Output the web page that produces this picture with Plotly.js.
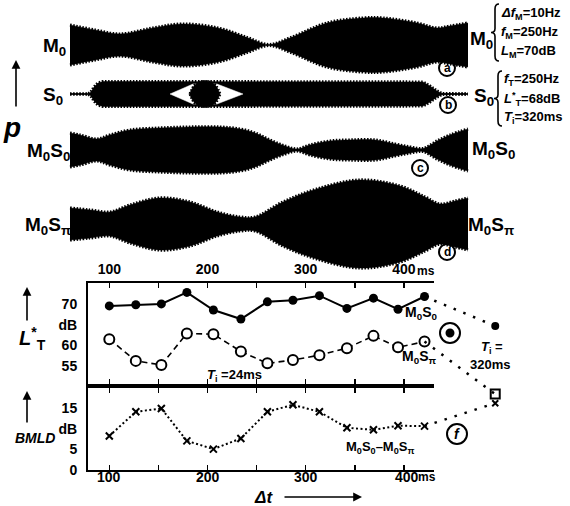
<!DOCTYPE html>
<html><head><meta charset="utf-8">
<script src="https://cdn.plot.ly/plotly-3.0.1.min.js"></script>
<style>html,body{margin:0;padding:0;background:#fff;}#chart{width:570px;height:506px;}</style>
</head><body><div id="chart"></div>
<script>
// ---------------- data ----------------
// lower panels: masked thresholds vs. delay Δt (ms)
const dtMs   = [100,127,153,179,206,234,261,287,314,342,369,394,421];
const m0s0   = [69.6,69.9,70.1,72.9,68.6,66.4,70.6,71.0,72.1,69.0,71.5,68.8,71.9];
const m0spi  = [61.5,56.2,55.2,62.9,62.7,58.5,55.6,56.4,57.6,59.3,62.3,59.5,60.9];
const bmld   = [8.3,14.2,15.0,7.1,5.1,7.7,14.2,15.9,14.2,10.3,9.8,10.8,10.7];
// thresholds for the long signal (Ti = 320 ms), drawn to the right
const longDt = 493;
const longM0s0 = 64.7;
const longM0spi = 48.1;
const longBmld = 16.3;
const xTickVals = [100,150,200,250,300,350,400];
const xTickText = ['100','','200','','300','','400'];
const yTopVals = [55,60,65,70];
const yTopText = ['55','60','dB','70'];
const yBotVals = [0,5,10,15];
const yBotText = ['0','5','dB','15'];

// upper waveforms: envelope half-amplitude vs. time (t, ms-like units)
const envA_t = [0,25,50,83,112,148,177,199,221,257,293,313,347,367,380,398];
const envA   = [20,15,11,17,21,17,7.5,0.5,7.5,22,27,27,22,17,19,22];
const envB_t = [0,18,21,24,28,33,50,100,200,300,350,353,360,367,372,398];
const envB   = [0,0,2,7,11,12.5,12.5,12.5,12.5,12.5,12.5,12,8,3,0.5,0];
const gapB_t = [100,123,147,173];      // white gap in the signal (tip, edge, edge, tip)
const gapB   = [0,10,10,0];
const burstB_t = [120,124,128,135,142,146,150];
const burstB   = [0,8,11,12.5,11,8,0];
const envC_t = [0,10,27,40,60,90,120,150,170,185,200,215,227,240,260,280,305,325,340,353,367,380,398];
const envC   = [17,15,11,15,20,22,23,23,21,17,10,4,1,5,9,10,10,6,3,1.5,9,15,21];
const envD_t = [0,20,40,60,90,120,147,170,185,213,247,290,330,355,370,385,398];
const envD   = [16,14,12,19,26,22,12,7,7,22,35,44,38,27,20,23,26];

// ---------------- geometry helpers ----------------
const W = 570, H = 506;
const fx = p => p / W, fy = p => 1 - p / H;
const FONT = '"Liberation Sans",Arial,sans-serif';
const pxPerMs = 0.982, px100 = 109.3;
const msAt = px => 100 + (px - px100) / pxPerMs;
const pxPerDb = 4.1;
const dbTopAt = py => 70 - (py - 304.3) / pxPerDb;
const dbBotAt = py => (470 - py) / pxPerDb;
const PL = 88, PR = 434, T1 = 283.3, B1 = 384, T2 = 387.5, B2 = 470;

const rows = [
  {t: envA_t, a: envA, c: 45, h: 40, ax: 'y5'},
  {t: envB_t, a: envB, c: 94, h: 30, ax: 'y6'},
  {t: envC_t, a: envC, c: 150, h: 40, ax: 'y7'},
  {t: envD_t, a: envD, c: 224, h: 50, ax: 'y8'}
];

const traces = [];
const black = '#000';

// waveforms
rows.forEach((r, i) => {
  const shape = i === 1 ? 'linear' : 'spline';
  if (i === 1) {
    traces.push({x: [r.t[0], r.t[r.t.length-1]], y: [0, 0], xaxis: 'x4', yaxis: r.ax, mode: 'lines',
      line: {color: black, width: 1.3}, hoverinfo: 'skip'});
  }
  traces.push({x: r.t, y: r.a.map(v => -v), xaxis: 'x4', yaxis: r.ax, mode: 'lines',
    line: {color: black, width: 0.5, shape}, hoverinfo: 'skip'});
  traces.push({x: r.t, y: r.a, xaxis: 'x4', yaxis: r.ax, mode: 'lines', fill: 'tonexty', fillcolor: black,
    line: {color: black, width: 0.5, shape}, hoverinfo: 'skip'});
  [1, -1].forEach(s => traces.push({x: r.t, y: r.a.map(v => s * v), xaxis: 'x4', yaxis: r.ax, mode: 'lines',
    line: {color: black, width: 3.2, dash: '1.5px,1.6px', shape}, hoverinfo: 'skip'}));
  if (i === 1) {
    traces.push({x: gapB_t.concat(gapB_t.slice().reverse()), y: gapB.concat(gapB.map(v => -v).reverse()),
      xaxis: 'x4', yaxis: r.ax, mode: 'lines', fill: 'toself', fillcolor: '#fff',
      line: {color: '#fff', width: 0.5}, hoverinfo: 'skip'});
    traces.push({x: burstB_t.concat(burstB_t.slice().reverse()), y: burstB.concat(burstB.map(v => -v).reverse()),
      xaxis: 'x4', yaxis: r.ax, mode: 'lines', fill: 'toself', fillcolor: black,
      line: {color: black, width: 0.5, shape: 'spline'}, hoverinfo: 'skip'});
    [1, -1].forEach(s => traces.push({x: burstB_t, y: burstB.map(v => s * v), xaxis: 'x4', yaxis: r.ax, mode: 'lines',
      line: {color: black, width: 3, dash: '1.5px,1.6px', shape: 'spline'}, hoverinfo: 'skip'}));
  }
});

// threshold curves
traces.push({x: dtMs, y: m0s0, xaxis: 'x', yaxis: 'y', mode: 'lines+markers',
  line: {color: black, width: 2}, marker: {symbol: 'circle', size: 9, color: black}, cliponaxis: false});
traces.push({x: dtMs, y: m0spi, xaxis: 'x', yaxis: 'y', mode: 'lines+markers',
  line: {color: black, width: 1.6, dash: '6px,4px'},
  marker: {symbol: 'circle', size: 10, color: '#fff', line: {color: black, width: 2}}, cliponaxis: false});
traces.push({x: dtMs, y: bmld, xaxis: 'x2', yaxis: 'y2', mode: 'lines+markers',
  line: {color: black, width: 2, dash: '2px,2.5px'},
  marker: {symbol: 'x-thin-open', size: 7, color: black, line: {color: black, width: 2}}, cliponaxis: false});
// connections to the Ti = 320 ms values
const last = dtMs.length - 1;
const dotted = {color: black, width: 2.5, dash: '2.5px,8px'};
traces.push({x: [dtMs[last], longDt], y: [m0s0[last], longM0s0], xaxis: 'x3', yaxis: 'y3', mode: 'lines', line: dotted});
traces.push({x: [dtMs[last], longDt], y: [m0spi[last], longM0spi], xaxis: 'x3', yaxis: 'y3', mode: 'lines', line: dotted});
traces.push({x: [dtMs[last], longDt], y: [bmld[last], longBmld], xaxis: 'x3', yaxis: 'y4', mode: 'lines', line: dotted});
traces.push({x: [longDt], y: [longM0s0], xaxis: 'x3', yaxis: 'y3', mode: 'markers', marker: {symbol: 'circle', size: 8, color: black}, cliponaxis: false});
traces.push({x: [longDt], y: [longM0spi], xaxis: 'x3', yaxis: 'y3', mode: 'markers', marker: {symbol: 'square-open', size: 9, color: black, line: {width: 2}}, cliponaxis: false});
traces.push({x: [longDt], y: [longBmld], xaxis: 'x3', yaxis: 'y4', mode: 'markers', marker: {symbol: 'x-thin-open', size: 6, color: black, line: {width: 2}}, cliponaxis: false});

// ---------------- layout ----------------
const tickFont = {family: FONT, size: 14, color: black, weight: 'bold'};
const baseX = {showgrid: false, zeroline: false, showline: true, linewidth: 2, linecolor: black,
  ticks: 'inside', ticklen: 5, tickwidth: 1.5, tickcolor: black, mirror: 'ticks',
  tickvals: xTickVals, ticktext: xTickText, tickfont: tickFont, range: [msAt(PL), msAt(PR)],
  domain: [fx(PL), fx(PR)], fixedrange: true};
const baseY = {showgrid: false, zeroline: false, showline: true, linewidth: 2, linecolor: black,
  ticks: '', tickfont: tickFont, fixedrange: true, ticklabelstandoff: 6};
const hidden = {visible: false, fixedrange: true};

const layout = {
  width: W, height: H, margin: {l: 0, r: 0, t: 0, b: 0},
  paper_bgcolor: '#fff', plot_bgcolor: 'rgba(0,0,0,0)', showlegend: false,
  font: {family: FONT, color: black},
  xaxis: Object.assign({}, baseX, {anchor: 'y', side: 'top', ticklabelstandoff: 2}),
  yaxis: Object.assign({}, baseY, {anchor: 'x', domain: [fy(B1), fy(T1)], range: [dbTopAt(B1), dbTopAt(T1)],
    tickvals: yTopVals, ticktext: yTopText}),
  xaxis2: Object.assign({}, baseX, {anchor: 'y2', side: 'bottom', showticklabels: false}),
  yaxis2: Object.assign({}, baseY, {anchor: 'x2', domain: [fy(B2), fy(T2)], range: [0, dbBotAt(T2)],
    tickvals: yBotVals, ticktext: yBotText}),
  xaxis3: Object.assign({}, hidden, {anchor: 'y3', domain: [fx(PL), fx(520)], range: [msAt(PL), msAt(520)]}),
  yaxis3: Object.assign({}, hidden, {anchor: 'x3', domain: [fy(B2), fy(T1)], range: [dbTopAt(B2), dbTopAt(T1)]}),
  yaxis4: Object.assign({}, hidden, {anchor: 'x3', domain: [fy(B2), fy(T2)], range: [0, dbBotAt(T2)]}),
  xaxis4: Object.assign({}, hidden, {anchor: 'y5', domain: [0, 1], range: [-70, 500]}),
  annotations: [], shapes: []
};
rows.forEach((r, i) => {
  layout['yaxis' + (5 + i)] = Object.assign({}, hidden, {anchor: 'x4',
    domain: [fy(r.c + r.h), fy(r.c - r.h)], range: [-r.h, r.h]});
});

const A = layout.annotations, S = layout.shapes;
function txt(text, px, py, size, o) {
  A.push(Object.assign({xref: 'paper', yref: 'paper', x: fx(px), y: fy(py), text, showarrow: false,
    xanchor: 'center', yanchor: 'middle', font: {family: FONT, size, color: black, weight: 'bold'}}, o || {}));
}
function arrow(hx, hy, tx, ty) {
  A.push({xref: 'paper', yref: 'paper', x: fx(hx), y: fy(hy), ax: tx - hx, ay: ty - hy, text: '',
    showarrow: true, arrowhead: 2, arrowsize: 1.1, arrowwidth: 1.6, arrowcolor: black});
}
function circ(cx, cy, r, fill) {
  S.push({type: 'circle', xref: 'paper', yref: 'paper', x0: fx(cx - r), x1: fx(cx + r), y0: fy(cy + r), y1: fy(cy - r),
    line: {color: black, width: 2}, fillcolor: fill || 'rgba(0,0,0,0)'});
}
function brace(x, y0, y1) {
  const m = (y0 + y1) / 2, P = (a, b) => fx(a) + ',' + fy(b);
  S.push({type: 'path', xref: 'paper', yref: 'paper', line: {color: black, width: 1.6},
    path: 'M' + P(x + 4, y0) + ' Q' + P(x, y0) + ' ' + P(x, y0 + 5) + ' L' + P(x, m - 4) + ' Q' + P(x, m) + ' ' + P(x - 4, m) +
      ' Q' + P(x, m) + ' ' + P(x, m + 4) + ' L' + P(x, y1 - 5) + ' Q' + P(x, y1) + ' ' + P(x + 4, y1)});
}

// waveform labels
const sub = s => '<sub>' + s + '</sub>';
txt('M' + sub('0'), 54, 47, 19);
txt('S' + sub('0'), 53, 96, 19);
txt('M' + sub('0') + 'S' + sub('0'), 48, 152, 19);
txt('M' + sub('0') + 'S' + sub('π'), 48, 226, 19);
txt('M' + sub('0'), 481, 40, 19);
txt('S' + sub('0'), 484, 97, 19);
txt('M' + sub('0') + 'S' + sub('0'), 493, 150, 19);
txt('M' + sub('0') + 'S' + sub('π'), 491, 226, 19);
brace(495, 4, 61);
brace(498, 71, 126);
txt('<i>Δf</i>' + sub('M') + '=10Hz', 499, 14, 13, {xanchor: 'left'});
txt('<i>f</i>' + sub('M') + '=250Hz', 499, 33, 13, {xanchor: 'left'});
txt('<i>L</i>' + sub('M') + '=70dB', 499, 52, 13, {xanchor: 'left'});
txt('<i>f</i>' + sub('T') + '=250Hz', 502, 80, 13, {xanchor: 'left'});
txt('<i>L</i><sup>*</sup>' + sub('T') + '=68dB', 502, 99, 13, {xanchor: 'left'});
txt('<i>T</i>' + sub('i') + '=320ms', 502, 117, 13, {xanchor: 'left'});
// circled letters
[['a', 447, 68], ['b', 448, 105], ['c', 420, 168], ['d', 447, 252]].forEach(([l, x, y]) => {
  circ(x, y, 8); txt(l, x, y, 12);
});
// p axis
txt('<i>p</i>', 12, 128, 28);
arrow(16, 60, 16, 108);

// x tick labels of the lower panel
[100, 200, 300].forEach(v => A.push({xref: 'x2', yref: 'paper', x: v, y: fy(477), text: String(v), showarrow: false,
  xanchor: 'center', yanchor: 'middle', font: tickFont}));
A.push({xref: 'x2', yref: 'paper', x: 400, xshift: -11, y: fy(477), text: '400', showarrow: false, xanchor: 'left',
  yanchor: 'middle', font: tickFont});
A.push({xref: 'x', yref: 'paper', x: 400, xshift: 11, y: fy(271), text: 'ms', showarrow: false, xanchor: 'left',
  yanchor: 'middle', font: {family: FONT, size: 12, color: black, weight: 'bold'}});
A.push({xref: 'x2', yref: 'paper', x: 400, xshift: 12, y: fy(477), text: 'ms', showarrow: false, xanchor: 'left',
  yanchor: 'middle', font: {family: FONT, size: 12, color: black, weight: 'bold'}});
txt('M' + sub('0') + 'S' + sub('0'), 421, 313, 14);
txt('M' + sub('0') + 'S' + sub('π'), 419, 357, 14);
txt('<i>T</i>' + sub('i') + ' =24ms', 234, 375, 13);
txt('<i>T</i>' + sub('i') + ' =', 492, 347, 13);
txt('320ms', 490, 364, 13);
txt('M' + sub('0') + 'S' + sub('0') + '–M' + sub('0') + 'S' + sub('π'), 380, 447, 13);
circ(450, 333, 10); circ(450, 333, 3.5, black);
circ(457, 434, 10); txt('<i>f</i>', 457, 434, 14);
// y titles
txt('<i>L</i><sup>*</sup>' + sub('T'), 32, 338, 20);
arrow(27, 287, 27, 322);
txt('<i>BMLD</i>', 35, 438, 14);
arrow(27, 391, 27, 424);
txt('<i>Δt</i>', 263, 497, 17);
arrow(362, 497, 283, 497);

Plotly.newPlot('chart', traces, layout, {staticPlot: true, displayModeBar: false});
</script></body></html>
